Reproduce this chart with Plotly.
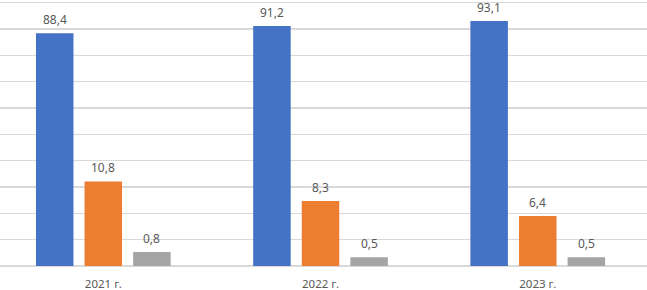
import plotly.graph_objects as go

categories = ["2021 г.", "2022 г.", "2023 г."]
series_a = [88.4, 91.2, 93.1]
series_b = [10.8, 8.3, 6.4]
series_c = [0.8, 0.5, 0.5]
colors = ["#4472C4", "#ED7D31", "#A5A5A5"]
# each series is drawn on its own overlaid value axis (as in the original chart)
axis_max = [101.03, 33.97, 15.24]
axis_ids = ["y", "y2", "y3"]

slot = 0.2237
bar_w = 0.1727

fig = go.Figure()
idx = list(range(len(categories)))
for j, (vals, col, ax) in enumerate(zip([series_a, series_b, series_c], colors, axis_ids)):
    fig.add_trace(go.Bar(x=idx, y=vals, yaxis=ax, width=bar_w,
                         offset=(j - 1) * slot - bar_w / 2,
                         marker=dict(color=col, line=dict(width=0)),
                         hoverinfo="skip"))
    for i, v in zip(idx, vals):
        fig.add_annotation(x=i + (j - 1) * slot, y=v, xref="x", yref=ax,
                           text=f"{v:.1f}".replace(".", ","),
                           showarrow=False, yanchor="bottom", yshift=3,
                           font=dict(family="Noto Sans", size=12, color="#595959"))

fig.update_layout(
    width=647, height=290,
    margin=dict(l=0, r=0, t=0, b=24),
    paper_bgcolor="white", plot_bgcolor="white",
    barmode="overlay",
    showlegend=False,
    font=dict(family="Noto Sans", size=12, color="#595959"),
    yaxis=dict(range=[0, axis_max[0]], dtick=10, tick0=0, showgrid=True, gridcolor="#D9D9D9",
               gridwidth=1.5, zeroline=True, zerolinecolor="#D9D9D9", zerolinewidth=1.5,
               showticklabels=False, showline=False),
    yaxis2=dict(range=[0, axis_max[1]], overlaying="y", showgrid=False, zeroline=False,
                showticklabels=False, showline=False),
    yaxis3=dict(range=[0, axis_max[2]], overlaying="y", showgrid=False, zeroline=False,
                showticklabels=False, showline=False),
)
fig.update_xaxes(range=[-0.4756, 2.503], tickmode="array", tickvals=idx, ticktext=categories,
                 showgrid=False, zeroline=False, showline=False, automargin=False,
                 ticks="outside", ticklen=7, tickcolor="rgba(0,0,0,0)",
                 tickfont=dict(family="Noto Sans", size=11.5, color="#595959"))

fig.write_html("out.html", config={"displayModeBar": False, "staticPlot": True},
               post_script="document.body.style.margin='0';document.body.style.overflow='hidden';")
